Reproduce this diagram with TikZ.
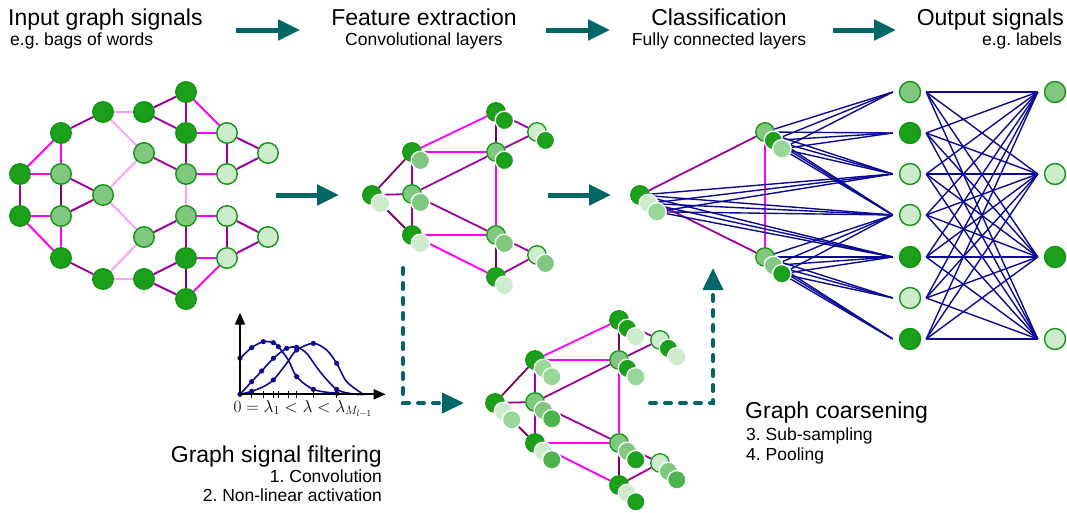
\documentclass[tikz,border=0pt]{standalone}
\usepackage[no-math]{fontspec}
\setmainfont{Liberation Sans}
\usetikzlibrary{arrows.meta,backgrounds}
\frenchspacing

\definecolor{gdark}{RGB}{28,160,28}
\definecolor{gmid}{RGB}{128,200,128}
\definecolor{glight}{RGB}{204,236,204}
\definecolor{gsoft}{RGB}{153,214,153}
\definecolor{gdeep}{RGB}{77,179,77}
\definecolor{grim}{RGB}{16,150,16}
\definecolor{emag}{RGB}{255,0,255}
\definecolor{epur}{RGB}{160,0,160}
\definecolor{edeep}{RGB}{128,0,112}
\definecolor{epink}{RGB}{255,160,255}
\definecolor{fcnavy}{RGB}{10,10,150}
\definecolor{flowteal}{RGB}{0,102,102}

\begin{document}
\begin{tikzpicture}[x=1pt, y=-1pt,
	vx/.style={circle, draw=grim, line width=1.4pt, minimum size=20.5pt, inner sep=0pt},
	st/.style={circle, draw=grim, line width=1.3pt, minimum size=18.5pt, inner sep=0pt},
	lay/.style={circle, draw=white, line width=1.3pt, minimum size=18.5pt, inner sep=0pt, shift={(8.4,8.4)}},
	unit/.style={circle, draw=grim, line width=1.4pt, minimum size=21pt, inner sep=0pt},
	fd/.style={fill=gdark}, fm/.style={fill=gmid}, fl/.style={fill=glight},
	fs/.style={fill=gsoft}, fe/.style={fill=gdeep},
	mg/.style={draw=emag}, pu/.style={draw=epur}, dpu/.style={draw=edeep}, pk/.style={draw=epink},
	fc/.style={draw=fcnavy, line width=1.4pt},
	flow/.style={draw=flowteal, line width=5pt, -{Triangle[length=22pt,width=20pt]}},
	dflow/.style={draw=flowteal, line width=4pt, line cap=round, dash pattern=on 6pt off 9pt, -{Triangle[length=22pt,width=20pt]}},
	axis/.style={draw=black, line width=1.8pt, -{Triangle[length=12pt,width=10pt]}},
	curve/.style={draw=fcnavy, line width=1.6pt},
	ttl/.style={font=\fontsize{23}{27}\selectfont, inner sep=0pt},
	subt/.style={font=\fontsize{17.5}{21}\selectfont, inner sep=0pt}]
	\useasboundingbox (0,0) rectangle (1067,512);

	% Titles
	\node[ttl, anchor=base west] (tin) at (8,25) {Input graph signals};
	\node[subt, anchor=base west] (sin) at (10,45) {e.g. bags of words};
	\node[ttl, anchor=base] (tfe) at (424,25) {Feature extraction};
	\node[subt, anchor=base] (sfe) at (424,45) {Convolutional layers};
	\node[ttl, anchor=base] (tcl) at (719,25) {Classification};
	\node[subt, anchor=base] (scl) at (719,45) {Fully connected layers};
	\node[ttl, anchor=base east] (tout) at (1064,25) {Output signals};
	\node[subt, anchor=base east] (sout) at (1062,45) {e.g. labels};

	\node[ttl, anchor=base east] (tfilt) at (382,462) {Graph signal filtering};
	\node[subt, anchor=base east] (sfilt1) at (382,482) {1. Convolution};
	\node[subt, anchor=base east] (sfilt2) at (382,501) {2. Non-linear activation};
	\node[ttl, anchor=base west] (tcoarse) at (745,418) {Graph coarsening};
	\node[subt, anchor=base west] (scoarse1) at (746,440) {3. Sub-sampling};
	\node[subt, anchor=base west] (scoarse2) at (746,460) {4. Pooling};

	% Input graph
	\node[vx, fd] (ua) at (186,92) {};
	\node[vx, fd] (ub) at (103,112) {};
	\node[vx, fd] (uc) at (144,112) {};
	\node[vx, fd] (ud) at (61,133) {};
	\node[vx, fd] (ue) at (186,133) {};
	\node[vx, fl] (uf) at (227,133) {};
	\node[vx, fm] (ug) at (144,153) {};
	\node[vx, fl] (uh) at (268,153) {};
	\node[vx, fd] (ui) at (20,174) {};
	\node[vx, fm] (uj) at (61,174) {};
	\node[vx, fm] (uk) at (186,174) {};
	\node[vx, fl] (ul) at (227,174) {};
	\node[vx, fm] (um) at (103,195) {};
	\node[vx, fd] (un) at (20,216) {};
	\node[vx, fm] (uo) at (61,216) {};
	\node[vx, fm] (up) at (186,216) {};
	\node[vx, fl] (uq) at (227,216) {};
	\node[vx, fm] (ur) at (144,237) {};
	\node[vx, fl] (us) at (268,237) {};
	\node[vx, fd] (ut) at (61,258) {};
	\node[vx, fd] (uu) at (186,258) {};
	\node[vx, fl] (uv) at (227,258) {};
	\node[vx, fd] (uw) at (103,279) {};
	\node[vx, fd] (ux) at (144,279) {};
	\node[vx, fd] (uy) at (186,299) {};

	% Convolutional layer
	\node[st, fd] (a1) at (372,195) {}; \node[lay, fl] (a1b) at (a1) {};
	\node[st, fd] (b1) at (412,152) {}; \node[lay, fm] (b1b) at (b1) {};
	\node[st, fm] (c1) at (412,194) {}; \node[lay, fm] (c1b) at (c1) {};
	\node[st, fd] (d1) at (412,235) {}; \node[lay, fl] (d1b) at (d1) {};
	\node[st, fd] (e1) at (496,112) {}; \node[lay, fd] (e1b) at (e1) {};
	\node[st, fm] (f1) at (496,152) {}; \node[lay, fd] (f1b) at (f1) {};
	\node[st, fl] (g1) at (537,132) {}; \node[lay, fd] (g1b) at (g1) {};
	\node[st, fm] (h1) at (496,235) {}; \node[lay, fm] (h1b) at (h1) {};
	\node[st, fd] (i1) at (496,277) {}; \node[lay, fl] (i1b) at (i1) {};
	\node[st, fl] (j1) at (537,255) {}; \node[lay, fm] (j1b) at (j1) {};

	% Filtered and activated layer
	\begin{scope}[shift={(123,208)}]
	\node[st, fd] (a2) at (372,195) {}; \node[lay, fl] (a2b) at (a2) {}; \node[lay, fs] (a2c) at (a2b) {};
	\node[st, fd] (b2) at (412,152) {}; \node[lay, fs] (b2b) at (b2) {}; \node[lay, fs] (b2c) at (b2b) {};
	\node[st, fm] (c2) at (412,194) {}; \node[lay, fm] (c2b) at (c2) {}; \node[lay, fe] (c2c) at (c2b) {};
	\node[st, fd] (d2) at (412,235) {}; \node[lay, fl] (d2b) at (d2) {}; \node[lay, fe] (d2c) at (d2b) {};
	\node[st, fd] (e2) at (496,112) {}; \node[lay, fd] (e2b) at (e2) {}; \node[lay, fl] (e2c) at (e2b) {};
	\node[st, fm] (f2) at (496,152) {}; \node[lay, fd] (f2b) at (f2) {}; \node[lay, fs] (f2c) at (f2b) {};
	\node[st, fl] (g2) at (537,132) {}; \node[lay, fd] (g2b) at (g2) {}; \node[lay, fl] (g2c) at (g2b) {};
	\node[st, fm] (h2) at (496,235) {}; \node[lay, fm] (h2b) at (h2) {}; \node[lay, fd] (h2c) at (h2b) {};
	\node[st, fd] (i2) at (496,277) {}; \node[lay, fl] (i2b) at (i2) {}; \node[lay, fd] (i2c) at (i2b) {};
	\node[st, fl] (j2) at (537,255) {}; \node[lay, fm] (j2b) at (j2) {}; \node[lay, fe] (j2c) at (j2b) {};
	\end{scope}

	% Coarsened layer
	\node[st, fd] (ka) at (640,195) {}; \node[lay, fl] (kb) at (ka) {}; \node[lay, fs] (kc) at (kb) {};
	\node[st, fm] (la) at (765,132) {}; \node[lay, fd] (lb) at (la) {}; \node[lay, fs] (lc) at (lb) {};
	\node[st, fm] (ma) at (765,257) {}; \node[lay, fm] (mb) at (ma) {}; \node[lay, fd] (mc) at (mb) {};

	% Fully connected layers
	\node[unit, fm] (o1) at (910,92) {};
	\node[unit, fd] (o2) at (910,133) {};
	\node[unit, fl] (o3) at (910,174) {};
	\node[unit, fl] (o4) at (910,215) {};
	\node[unit, fd] (o5) at (910,257) {};
	\node[unit, fl] (o6) at (910,298) {};
	\node[unit, fd] (o7) at (910,339) {};
	\node[unit, fm] (p1) at (1055,92) {};
	\node[unit, fl] (p2) at (1055,174) {};
	\node[unit, fd] (p3) at (1055,257) {};
	\node[unit, fl] (p4) at (1055,339) {};

	\coordinate (o1w) at ([xshift=-6pt]o1.west); \coordinate (o1e) at ([xshift=5pt]o1.east);
	\coordinate (o2w) at ([xshift=-6pt]o2.west); \coordinate (o2e) at ([xshift=5pt]o2.east);
	\coordinate (o3w) at ([xshift=-6pt]o3.west); \coordinate (o3e) at ([xshift=5pt]o3.east);
	\coordinate (o4w) at ([xshift=-6pt]o4.west); \coordinate (o4e) at ([xshift=5pt]o4.east);
	\coordinate (o5w) at ([xshift=-6pt]o5.west); \coordinate (o5e) at ([xshift=5pt]o5.east);
	\coordinate (o6w) at ([xshift=-6pt]o6.west); \coordinate (o6e) at ([xshift=5pt]o6.east);
	\coordinate (o7w) at ([xshift=-6pt]o7.west); \coordinate (o7e) at ([xshift=5pt]o7.east);
	\coordinate (p1w) at ([xshift=-6pt]p1.west);
	\coordinate (p2w) at ([xshift=-6pt]p2.west);
	\coordinate (p3w) at ([xshift=-6pt]p3.west);
	\coordinate (p4w) at ([xshift=-6pt]p4.west);

	% Draw edges
	\begin{scope}[on background layer]
	\path[line width=2pt]
	(ua) edge[pu] (uc)  (ua) edge[pu] (ue)  (ua) edge[mg] (uf)
	(ub) edge[pk] (uc)  (ub) edge[pu] (ud)  (ub) edge[pk] (ug)
	(uc) edge[pu] (ue)
	(ud) edge[mg] (ui)  (ud) edge[mg] (uj)
	(ue) edge[mg] (uf)  (ue) edge[pu] (uk)
	(uf) edge[pu] (uh)  (uf) edge[pu] (ul)
	(ug) edge[pu] (uk)  (ug) edge[pk] (um)
	(uh) edge[pu] (ul)
	(ui) edge[mg] (uj)  (ui) edge[pu] (un)
	(uj) edge[pu] (um)  (uj) edge[dpu] (uo)
	(uk) edge[mg] (ul)  (uk) edge[pk] (up)
	(um) edge[pu] (uo)  (um) edge[pk] (ur)
	(un) edge[mg] (uo)  (un) edge[mg] (ut)
	(uo) edge[mg] (ut)
	(up) edge[mg] (uq)  (up) edge[pu] (ur)  (up) edge[pu] (uu)
	(uq) edge[pu] (us)  (uq) edge[pu] (uv)
	(us) edge[pu] (uv)
	(ut) edge[pu] (uw)
	(uu) edge[mg] (uv)  (uu) edge[pu] (ux)  (uu) edge[dpu] (uy)
	(uv) edge[mg] (uy)
	(uw) edge[pk] (ux)  (uw) edge[pk] (ur)
	(ux) edge[pu] (uy);

	\path[line width=1.8pt]
	(a1) edge[dpu] (b1)  (a1) edge[pu] (c1)  (a1) edge[dpu] (d1)
	(b1) edge[pu] (c1)  (b1) edge[mg] (e1)  (b1) edge[mg] (f1)
	(c1) edge[pu] (d1)  (c1) edge[pu] (f1)  (c1) edge[pu] (h1)
	(d1) edge[mg] (h1)  (d1) edge[mg] (i1)
	(e1) edge[dpu] (f1)  (e1) edge[pu] (g1)
	(f1) edge[pu] (g1)  (f1) edge[mg] (h1)
	(h1) edge[dpu] (i1)  (h1) edge[pu] (j1)
	(i1) edge[pu] (j1)

	(a2) edge[dpu] (b2)  (a2) edge[pu] (c2)  (a2) edge[dpu] (d2)
	(b2) edge[pu] (c2)  (b2) edge[mg] (e2)  (b2) edge[mg] (f2)
	(c2) edge[pu] (d2)  (c2) edge[pu] (f2)  (c2) edge[pu] (h2)
	(d2) edge[mg] (h2)  (d2) edge[mg] (i2)
	(e2) edge[dpu] (f2)  (e2) edge[pu] (g2)
	(f2) edge[pu] (g2)  (f2) edge[mg] (h2)
	(h2) edge[dpu] (i2)  (h2) edge[pu] (j2)
	(i2) edge[pu] (j2)

	(ka) edge[pu] (la)  (ka) edge[pu] (ma)  (la) edge[mg] (ma);

	\path[fc]
	(la) edge (o1w)  (lb) edge (o1w)  (lc) edge (o1w)
	(la) edge (o2w)  (lb) edge (o2w)  (lc) edge (o2w)
	(la) edge (o3w)  (lb) edge (o3w)  (lc) edge (o3w)
	(la) edge (o4w)  (lb) edge (o4w)  (lc) edge (o4w)
	(ka) edge (o3w)  (kb) edge (o3w)  (kc) edge (o3w)
	(ka) edge (o4w)  (kb) edge (o4w)  (kc) edge (o4w)
	(ka) edge (o5w)  (kb) edge (o5w)  (kc) edge (o5w)
	(ma) edge (o4w)  (mb) edge (o4w)  (mc) edge (o4w)
	(ma) edge (o5w)  (mb) edge (o5w)  (mc) edge (o5w)
	(ma) edge (o6w)  (mb) edge (o6w)  (mc) edge (o6w)
	(ma) edge (o7w)  (mb) edge (o7w)  (mc) edge (o7w)

	(o1e) edge (p1w)  (o1e) edge (p2w)  (o1e) edge (p3w)  (o1e) edge (p4w)
	(o2e) edge (p1w)  (o2e) edge (p2w)  (o2e) edge (p3w)  (o2e) edge (p4w)
	(o3e) edge (p1w)  (o3e) edge (p2w)  (o3e) edge (p3w)  (o3e) edge (p4w)
	(o4e) edge (p1w)  (o4e) edge (p2w)  (o4e) edge (p3w)  (o4e) edge (p4w)
	(o5e) edge (p1w)  (o5e) edge (p2w)  (o5e) edge (p3w)  (o5e) edge (p4w)
	(o6e) edge (p1w)  (o6e) edge (p2w)  (o6e) edge (p3w)  (o6e) edge (p4w)
	(o7e) edge (p1w)  (o7e) edge (p2w)  (o7e) edge (p3w)  (o7e) edge (p4w);
	\end{scope}

	% Flow arrows
	\coordinate (f1s) at (236,30); \coordinate (f1t) at (300,30);
	\coordinate (f2s) at (546,30); \coordinate (f2t) at (610,30);
	\coordinate (f3s) at (833,30); \coordinate (f3t) at (896,30);
	\coordinate (m1s) at (276,195); \coordinate (m1t) at (339,195);
	\coordinate (m2s) at (548,195); \coordinate (m2t) at (611,195);
	\coordinate (dls) at (403,268); \coordinate (dlt) at (464,403);
	\coordinate (drs) at (650,403); \coordinate (drt) at (713,268);
	\draw[flow] (f1s) -- (f1t);
	\draw[flow] (f2s) -- (f2t);
	\draw[flow] (f3s) -- (f3t);
	\draw[flow] (m1s) -- (m1t);
	\draw[flow] (m2s) -- (m2t);
	\draw[dflow] (dls) |- (dlt);
	\draw[dflow] (drs) -| (drt);

	% Spectral filters
	\begin{scope}[shift={(220,300)}, x=0.3333pt, y=-0.3333pt]
	\draw[curve] plot[smooth] coordinates {(60,175) (95,143) (130,125) (160,128) (175,140) (205,180) (230,230) (280,268) (350,280) (430,283)};
	\draw[curve] plot[smooth] coordinates {(60,283) (95,245) (125,213) (160,175) (200,145) (230,142) (260,160) (300,215) (350,268) (400,282) (440,283)};
	\draw[curve] plot[smooth] coordinates {(60,283) (95,274) (130,260) (160,240) (200,190) (230,150) (280,130) (320,150) (350,190) (380,245) (430,283)};
	\foreach \p in {(60,175),(95,143),(130,125),(160,128),(175,140),(230,230),(280,268),(350,280),
		(95,245),(125,213),(160,175),(200,145),(230,142),(350,268),
		(60,283),(95,274),(160,240),(230,150),(280,130),(350,190)}
		\fill[fcnavy] \p circle (2.6pt);
	\foreach \t in {95,130,160,175,205,230,280,350}
		\draw[line width=1.3pt] (\t,273) -- (\t,295);
	\draw[axis] (60,283) -- (60,38);
	\draw[axis] (60,283) -- (497,283);
	\end{scope}
	\node[font=\fontsize{18}{21}\selectfont, inner sep=0pt] (lam) at (303,409) {$0=\lambda_1<\lambda<\lambda_{M_{l-1}}$};
\end{tikzpicture}
\end{document}
